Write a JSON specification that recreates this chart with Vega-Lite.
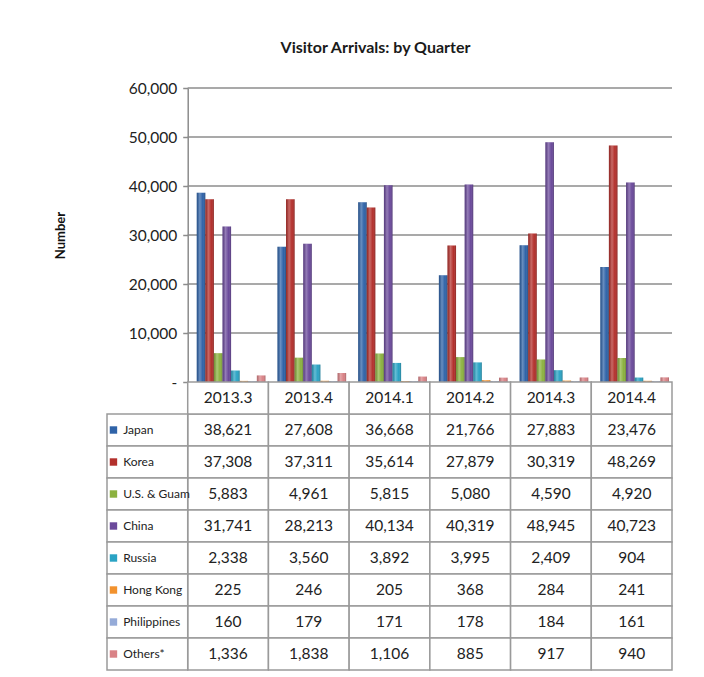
{
  "$schema": "https://vega.github.io/schema/vega-lite/v6.json",
  "background": "white",
  "padding": {"left": 54, "top": 40, "right": 22, "bottom": 4},
  "title": {"text": "Visitor Arrivals: by Quarter", "font": "Lato", "fontSize": 16, "fontWeight": "bold", "color": "#1a1a1a", "anchor": "middle", "offset": 25, "dx": 12},
  "datasets": {
    "d": [
      {"q": "2013.3", "s": "Japan", "v": 38621}, {"q": "2013.3", "s": "Korea", "v": 37308}, {"q": "2013.3", "s": "U.S. & Guam", "v": 5883}, {"q": "2013.3", "s": "China", "v": 31741}, {"q": "2013.3", "s": "Russia", "v": 2338}, {"q": "2013.3", "s": "Hong Kong", "v": 225}, {"q": "2013.3", "s": "Philippines", "v": 160}, {"q": "2013.3", "s": "Others*", "v": 1336},
      {"q": "2013.4", "s": "Japan", "v": 27608}, {"q": "2013.4", "s": "Korea", "v": 37311}, {"q": "2013.4", "s": "U.S. & Guam", "v": 4961}, {"q": "2013.4", "s": "China", "v": 28213}, {"q": "2013.4", "s": "Russia", "v": 3560}, {"q": "2013.4", "s": "Hong Kong", "v": 246}, {"q": "2013.4", "s": "Philippines", "v": 179}, {"q": "2013.4", "s": "Others*", "v": 1838},
      {"q": "2014.1", "s": "Japan", "v": 36668}, {"q": "2014.1", "s": "Korea", "v": 35614}, {"q": "2014.1", "s": "U.S. & Guam", "v": 5815}, {"q": "2014.1", "s": "China", "v": 40134}, {"q": "2014.1", "s": "Russia", "v": 3892}, {"q": "2014.1", "s": "Hong Kong", "v": 205}, {"q": "2014.1", "s": "Philippines", "v": 171}, {"q": "2014.1", "s": "Others*", "v": 1106},
      {"q": "2014.2", "s": "Japan", "v": 21766}, {"q": "2014.2", "s": "Korea", "v": 27879}, {"q": "2014.2", "s": "U.S. & Guam", "v": 5080}, {"q": "2014.2", "s": "China", "v": 40319}, {"q": "2014.2", "s": "Russia", "v": 3995}, {"q": "2014.2", "s": "Hong Kong", "v": 368}, {"q": "2014.2", "s": "Philippines", "v": 178}, {"q": "2014.2", "s": "Others*", "v": 885},
      {"q": "2014.3", "s": "Japan", "v": 27883}, {"q": "2014.3", "s": "Korea", "v": 30319}, {"q": "2014.3", "s": "U.S. & Guam", "v": 4590}, {"q": "2014.3", "s": "China", "v": 48945}, {"q": "2014.3", "s": "Russia", "v": 2409}, {"q": "2014.3", "s": "Hong Kong", "v": 284}, {"q": "2014.3", "s": "Philippines", "v": 184}, {"q": "2014.3", "s": "Others*", "v": 917},
      {"q": "2014.4", "s": "Japan", "v": 23476}, {"q": "2014.4", "s": "Korea", "v": 48269}, {"q": "2014.4", "s": "U.S. & Guam", "v": 4920}, {"q": "2014.4", "s": "China", "v": 40723}, {"q": "2014.4", "s": "Russia", "v": 904}, {"q": "2014.4", "s": "Hong Kong", "v": 241}, {"q": "2014.4", "s": "Philippines", "v": 161}, {"q": "2014.4", "s": "Others*", "v": 940}
    ],
    "hdr": [
      {"q": "2013.3", "s": "hdr"}, {"q": "2013.4", "s": "hdr"}, {"q": "2014.1", "s": "hdr"}, {"q": "2014.2", "s": "hdr"}, {"q": "2014.3", "s": "hdr"}, {"q": "2014.4", "s": "hdr"}
    ],
    "leg": [
      {"q": "key", "s": "Japan"}, {"q": "key", "s": "Korea"}, {"q": "key", "s": "U.S. & Guam"}, {"q": "key", "s": "China"}, {"q": "key", "s": "Russia"}, {"q": "key", "s": "Hong Kong"}, {"q": "key", "s": "Philippines"}, {"q": "key", "s": "Others*"}
    ],
    "grid": [
      {"q": "2013.3", "q2": "2014.4", "v": 10000}, {"q": "2013.3", "q2": "2014.4", "v": 20000}, {"q": "2013.3", "q2": "2014.4", "v": 30000}, {"q": "2013.3", "q2": "2014.4", "v": 40000}, {"q": "2013.3", "q2": "2014.4", "v": 50000}, {"q": "2013.3", "q2": "2014.4", "v": 60000}
    ]
  },
  "spacing": 0,
  "bounds": "flush",
  "vconcat": [
    {
      "width": 565,
      "height": 294,
      "encoding": {
        "y": {"field": "v", "type": "quantitative", "scale": {"domain": [0, 60000], "nice": false},
          "axis": {"values": [0, 10000, 20000, 30000, 40000, 50000, 60000], "offset": -80.714, "grid": false,
            "domainColor": "#8c8c8c", "domainWidth": 1.5, "tickColor": "#8c8c8c", "tickWidth": 1.5, "tickSize": 5,
            "labelFont": "Lato", "labelFontSize": 15.5, "labelColor": "#222", "labelPadding": 6,
            "labelExpr": "datum.value === 0 ? '-' : format(datum.value, ',')",
            "title": "Number", "titleFont": "Lato", "titleFontSize": 13, "titleFontWeight": "bold", "titleColor": "#111", "titlePadding": 61}}
      },
      "layer": [
        {
          "data": {"name": "grid"},
          "mark": {"type": "rule", "color": "#8c8c8c", "strokeWidth": 1.5},
          "encoding": {
            "x": {"field": "q", "type": "nominal", "bandPosition": 0, "scale": {"domain": ["key", "2013.3", "2013.4", "2014.1", "2014.2", "2014.3", "2014.4"], "paddingInner": 0, "paddingOuter": 0}, "axis": null},
            "x2": {"field": "q2", "bandPosition": 1}
          }
        },
        {
          "data": {"name": "d"},
          "mark": {"type": "bar"},
          "encoding": {
            "x": {"field": "q", "type": "nominal", "scale": {"domain": ["key", "2013.3", "2013.4", "2014.1", "2014.2", "2014.3", "2014.4"], "paddingInner": 0, "paddingOuter": 0}, "axis": null},
            "xOffset": {"field": "s", "type": "nominal", "scale": {"domain": ["Japan", "Korea", "U.S. & Guam", "China", "Russia", "Hong Kong", "Philippines", "Others*"], "paddingInner": 0, "paddingOuter": 0.7, "align": 0.75}},
            "color": {"field": "s", "type": "nominal", "scale": {"domain": ["Japan", "Korea", "U.S. & Guam", "China", "Russia", "Hong Kong", "Philippines", "Others*"], "range": ["#2F63A8", "#B3302C", "#8CB240", "#6B4A9B", "#2AA3C4", "#F2922E", "#95ABD8", "#D98286"]}, "legend": null}
          }
        },
        {
          "data": {"name": "d"},
          "mark": {"type": "bar", "color": {"gradient": "linear", "x1": 0, "x2": 1, "y1": 0, "y2": 0, "stops": [{"offset": 0, "color": "rgba(0,0,0,0.18)"}, {"offset": 0.35, "color": "rgba(255,255,255,0.28)"}, {"offset": 0.7, "color": "rgba(255,255,255,0)"}, {"offset": 1, "color": "rgba(0,0,0,0.25)"}]}},
          "encoding": {
            "x": {"field": "q", "type": "nominal", "scale": {"domain": ["key", "2013.3", "2013.4", "2014.1", "2014.2", "2014.3", "2014.4"], "paddingInner": 0, "paddingOuter": 0}, "axis": null},
            "xOffset": {"field": "s", "type": "nominal", "scale": {"domain": ["Japan", "Korea", "U.S. & Guam", "China", "Russia", "Hong Kong", "Philippines", "Others*"], "paddingInner": 0, "paddingOuter": 0.7, "align": 0.75}}
          }
        }
      ]
    },
    {
      "width": 565,
      "height": 288,
      "encoding": {
        "x": {"field": "q", "type": "nominal", "scale": {"domain": ["key", "2013.3", "2013.4", "2014.1", "2014.2", "2014.3", "2014.4"], "paddingInner": 0, "paddingOuter": 0}, "axis": null},
        "y": {"field": "s", "type": "nominal", "scale": {"domain": ["hdr", "Japan", "Korea", "U.S. & Guam", "China", "Russia", "Hong Kong", "Philippines", "Others*"], "paddingInner": 0, "paddingOuter": 0}, "axis": null}
      },
      "layer": [
        {"data": {"name": "d"}, "mark": {"type": "rect", "fill": "white", "stroke": "#9a9a9a", "strokeWidth": 1.5}},
        {"data": {"name": "hdr"}, "mark": {"type": "rect", "fill": "white", "stroke": "#9a9a9a", "strokeWidth": 1.5}},
        {"data": {"name": "leg"}, "mark": {"type": "rect", "fill": "white", "stroke": "#9a9a9a", "strokeWidth": 1.5}},
        {"data": {"name": "d"}, "mark": {"type": "text", "font": "Lato", "fontSize": 15.5, "color": "#222"}, "encoding": {"text": {"field": "v", "type": "quantitative", "format": ","}}},
        {"data": {"name": "hdr"}, "mark": {"type": "text", "font": "Lato", "fontSize": 15.5, "color": "#222"}, "encoding": {"text": {"field": "q", "type": "nominal"}}},
        {"data": {"name": "leg"}, "mark": {"type": "point", "shape": "square", "filled": true, "size": 55, "opacity": 1},
          "encoding": {
            "x": {"field": "q", "type": "nominal", "bandPosition": 0.08, "scale": {"domain": ["key", "2013.3", "2013.4", "2014.1", "2014.2", "2014.3", "2014.4"], "paddingInner": 0, "paddingOuter": 0}, "axis": null},
            "color": {"field": "s", "type": "nominal", "scale": {"domain": ["Japan", "Korea", "U.S. & Guam", "China", "Russia", "Hong Kong", "Philippines", "Others*"], "range": ["#2F63A8", "#B3302C", "#8CB240", "#6B4A9B", "#2AA3C4", "#F2922E", "#95ABD8", "#D98286"]}, "legend": null}
          }},
        {"data": {"name": "leg"}, "mark": {"type": "text", "align": "left", "font": "Lato", "fontSize": 12, "color": "#222"},
          "encoding": {
            "x": {"field": "q", "type": "nominal", "bandPosition": 0.2, "scale": {"domain": ["key", "2013.3", "2013.4", "2014.1", "2014.2", "2014.3", "2014.4"], "paddingInner": 0, "paddingOuter": 0}, "axis": null},
            "text": {"field": "s", "type": "nominal"}
          }}
      ]
    }
  ],
  "config": {"view": {"stroke": null}}
}
